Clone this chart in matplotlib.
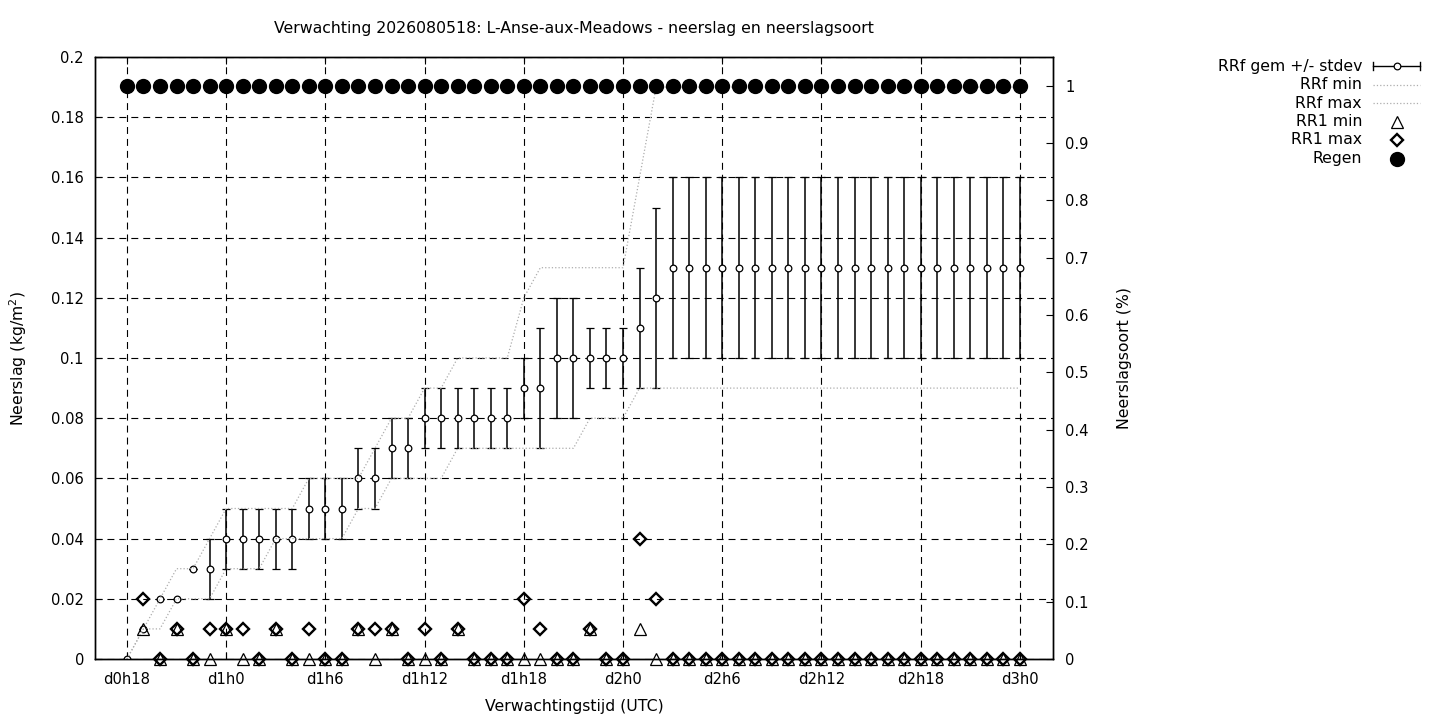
import numpy as np
import matplotlib
matplotlib.use("Agg")
import matplotlib.pyplot as plt

plt.rcParams['font.family'] = ['DejaVu Sans']
plt.rcParams['lines.scale_dashes'] = False
plt.rcParams['font.size'] = 10

title = "Verwachting 2026080518: L-Anse-aux-Meadows - neerslag en neerslagsoort"

# forecast hour (hours since d0h0)
hours = [18, 19, 20, 21, 22, 23, 24, 25, 26, 27, 28, 29, 30, 31, 32, 33, 34, 35,
         36, 37, 38, 39, 40, 41, 42, 43, 44, 45, 46, 47, 48, 49, 50, 51, 52, 53,
         54, 55, 56, 57, 58, 59, 60, 61, 62, 63, 64, 65, 66, 67, 68, 69, 70, 71, 72]

rrf_mean = [0.00, 0.01, 0.02, 0.02, 0.03, 0.03, 0.04, 0.04, 0.04, 0.04, 0.04,
            0.05, 0.05, 0.05, 0.06, 0.06, 0.07, 0.07, 0.08, 0.08, 0.08, 0.08,
            0.08, 0.08, 0.09, 0.09, 0.10, 0.10, 0.10, 0.10, 0.10, 0.11, 0.12,
            0.13, 0.13, 0.13, 0.13, 0.13, 0.13, 0.13, 0.13, 0.13, 0.13, 0.13,
            0.13, 0.13, 0.13, 0.13, 0.13, 0.13, 0.13, 0.13, 0.13, 0.13, 0.13]

rrf_std = [0.00, 0.00, 0.00, 0.00, 0.00, 0.01, 0.01, 0.01, 0.01, 0.01, 0.01,
           0.01, 0.01, 0.01, 0.01, 0.01, 0.01, 0.01, 0.01, 0.01, 0.01, 0.01,
           0.01, 0.01, 0.01, 0.02, 0.02, 0.02, 0.01, 0.01, 0.01, 0.02, 0.03,
           0.03, 0.03, 0.03, 0.03, 0.03, 0.03, 0.03, 0.03, 0.03, 0.03, 0.03,
           0.03, 0.03, 0.03, 0.03, 0.03, 0.03, 0.03, 0.03, 0.03, 0.03, 0.03]

rrf_min = [0.00, 0.01, 0.01, 0.02, 0.02, 0.02, 0.03, 0.03, 0.03, 0.04, 0.04,
           0.04, 0.04, 0.04, 0.05, 0.05, 0.06, 0.06, 0.06, 0.06, 0.07, 0.07,
           0.07, 0.07, 0.07, 0.07, 0.07, 0.07, 0.08, 0.08, 0.08, 0.09, 0.09,
           0.09, 0.09, 0.09, 0.09, 0.09, 0.09, 0.09, 0.09, 0.09, 0.09, 0.09,
           0.09, 0.09, 0.09, 0.09, 0.09, 0.09, 0.09, 0.09, 0.09, 0.09, 0.09]

rrf_max = [0.00, 0.01, 0.02, 0.03, 0.03, 0.04, 0.05, 0.05, 0.05, 0.05, 0.05,
           0.06, 0.06, 0.06, 0.06, 0.07, 0.08, 0.08, 0.09, 0.09, 0.10, 0.10,
           0.10, 0.10, 0.12, 0.13, 0.13, 0.13, 0.13, 0.13, 0.13, 0.16, 0.19,
           0.19, 0.19, 0.19, 0.19, 0.19, 0.19, 0.19, 0.19, 0.19, 0.19, 0.19,
           0.19, 0.19, 0.19, 0.19, 0.19, 0.19, 0.19, 0.19, 0.19, 0.19, 0.19]

nan = float('nan')
rr1_min = [nan, 0.01, 0.00, 0.01, 0.00, 0.00, 0.01, 0.00, 0.00, 0.01, 0.00,
           0.00, 0.00, 0.00, 0.01, 0.00, 0.01, 0.00, 0.00, 0.00, 0.01, 0.00,
           0.00, 0.00, 0.00, 0.00, 0.00, 0.00, 0.01, 0.00, 0.00, 0.01, 0.00,
           0.00, 0.00, 0.00, 0.00, 0.00, 0.00, 0.00, 0.00, 0.00, 0.00, 0.00,
           0.00, 0.00, 0.00, 0.00, 0.00, 0.00, 0.00, 0.00, 0.00, 0.00, 0.00]

rr1_max = [nan, 0.02, 0.00, 0.01, 0.00, 0.01, 0.01, 0.01, 0.00, 0.01, 0.00,
           0.01, 0.00, 0.00, 0.01, 0.01, 0.01, 0.00, 0.01, 0.00, 0.01, 0.00,
           0.00, 0.00, 0.02, 0.01, 0.00, 0.00, 0.01, 0.00, 0.00, 0.04, 0.02,
           0.00, 0.00, 0.00, 0.00, 0.00, 0.00, 0.00, 0.00, 0.00, 0.00, 0.00,
           0.00, 0.00, 0.00, 0.00, 0.00, 0.00, 0.00, 0.00, 0.00, 0.00, 0.00]

regen = [1, 1, 1, 1, 1, 1, 1, 1, 1, 1, 1, 1, 1, 1, 1, 1, 1, 1, 1, 1, 1, 1,
         1, 1, 1, 1, 1, 1, 1, 1, 1, 1, 1, 1, 1, 1, 1, 1, 1, 1, 1, 1, 1, 1,
         1, 1, 1, 1, 1, 1, 1, 1, 1, 1, 1]

xtick_hours = [18, 24, 30, 36, 42, 48, 54, 60, 66, 72]
xtick_labels = ["d0h18", "d1h0", "d1h6", "d1h12", "d1h18", "d2h0",
                "d2h6", "d2h12", "d2h18", "d3h0"]
ytick_vals = [0.0, 0.02, 0.04, 0.06, 0.08, 0.10, 0.12, 0.14, 0.16, 0.18, 0.20]
ytick_labels = ["0", "0.02", "0.04", "0.06", "0.08", "0.1", "0.12", "0.14",
                "0.16", "0.18", "0.2"]
y2tick_vals = [0.0, 0.1, 0.2, 0.3, 0.4, 0.5, 0.6, 0.7, 0.8, 0.9, 1.0]
y2tick_labels = ["0", "0.1", "0.2", "0.3", "0.4", "0.5", "0.6", "0.7",
                 "0.8", "0.9", "1"]

legend_labels = ["RRf gem +/- stdev", "RRf min", "RRf max", "RR1 min",
                 "RR1 max", "Regen"]

LBL = 11.3   # label / title / legend font size
TCK = 10.6   # tick label font size

W, H = 1440, 720
fig = plt.figure(figsize=(14.4, 7.2), dpi=100)
L, R, T, B = 95, 1053, 57, 659
ax = fig.add_axes([L / W, 1 - B / H, (R - L) / W, (B - T) / H])
ax.set_xlim(16.07, 74.0)
ax.set_ylim(0, 0.2)

gridstyle = (0, (5, 3.6))
ax.grid(True, color='black', linestyle=gridstyle, linewidth=0.8)
ax.set_axisbelow(True)

dotcol = '#adadad'
dotstyle = (0, (0.9, 1.5))

ax.errorbar(hours, rrf_mean, yerr=rrf_std, fmt='o', ms=4.8, mfc='white',
            mec='black', mew=0.9, ecolor='black', elinewidth=1.1, capsize=3.1,
            capthick=1.1, zorder=3)
ax.plot(hours, rrf_min, color=dotcol, linestyle=dotstyle, linewidth=0.9, zorder=4)
ax.plot(hours, rrf_max, color=dotcol, linestyle=dotstyle, linewidth=0.9, zorder=4)
ax.plot(hours, rr1_min, linestyle='none', marker='^', ms=8.5, mfc='none',
        mec='black', mew=0.9, zorder=5, clip_on=False)
ax.plot(hours, rr1_max, linestyle='none', marker='D', ms=6.2, mfc='none',
        mec='black', mew=1.7, zorder=6, clip_on=False)

ax.set_xticks(xtick_hours)
ax.set_xticklabels(xtick_labels)
ax.set_yticks(ytick_vals)
ax.set_yticklabels(ytick_labels)
ax.tick_params(axis='x', direction='in', length=5, top=True, bottom=True,
               pad=9.5, labelsize=TCK)
ax.tick_params(axis='y', direction='in', length=5, left=True, right=False,
               pad=8, labelsize=TCK)
for s in ax.spines.values():
    s.set_linewidth(1.0)
    s.set_color('black')

ax2 = ax.twinx()
ax2.set_ylim(0, 1.05)
ax2.plot(hours, regen, linestyle='none', marker='o', ms=10, color='black',
         zorder=7, clip_on=False)
ax2.set_yticks(y2tick_vals)
ax2.set_yticklabels(y2tick_labels)
ax2.tick_params(axis='y', direction='in', length=5, right=True, pad=9,
                labelsize=TCK)
for s in ax2.spines.values():
    s.set_linewidth(1.0)

# axis labels and title
fig.text(574 / W, 1 - 706 / H, "Verwachtingstijd (UTC)", ha='center',
         va='center', fontsize=LBL)
fig.text(18 / W, 1 - 358 / H, "Neerslag (kg/m$^2$)", ha='center',
         va='center', rotation=90, fontsize=LBL)
fig.text(1124 / W, 1 - 358 / H, "Neerslagsoort (%)", ha='center',
         va='center', rotation=90, fontsize=LBL)
fig.text(574 / W, 1 - 29 / H, title, ha='center', va='center', fontsize=LBL)

# legend (outside, right)
lax = fig.add_axes([0, 0, 1, 1], facecolor='none')
lax.set_xlim(0, W)
lax.set_ylim(H, 0)
lax.axis('off')
rows = [66, 84.5, 103, 121.5, 140, 158.5]
tx, sx0, sx1 = 1362, 1373, 1420
sxm = (sx0 + sx1) / 2
for lab, yy in zip(legend_labels, rows):
    lax.text(tx, yy, lab, ha='right', va='center', fontsize=LBL)
lax.plot([sx0, sx1], [rows[0], rows[0]], color='black', lw=1.0)
lax.plot([sx0, sx0], [rows[0] - 4, rows[0] + 4], color='black', lw=1.0)
lax.plot([sx1, sx1], [rows[0] - 4, rows[0] + 4], color='black', lw=1.0)
lax.plot([sxm], [rows[0]], 'o', ms=4.8, mfc='white', mec='black', mew=0.9)
lax.plot([sx0, sx1], [rows[1], rows[1]], color=dotcol, linestyle=dotstyle, lw=0.9)
lax.plot([sx0, sx1], [rows[2], rows[2]], color=dotcol, linestyle=dotstyle, lw=0.9)
lax.plot([sxm], [rows[3]], marker='^', ms=8.5, mfc='none', mec='black', mew=0.9)
lax.plot([sxm], [rows[4]], marker='D', ms=6.2, mfc='none', mec='black', mew=1.7)
lax.plot([sxm], [rows[5]], marker='o', ms=10, color='black')

fig.savefig("out.png", dpi=100)
